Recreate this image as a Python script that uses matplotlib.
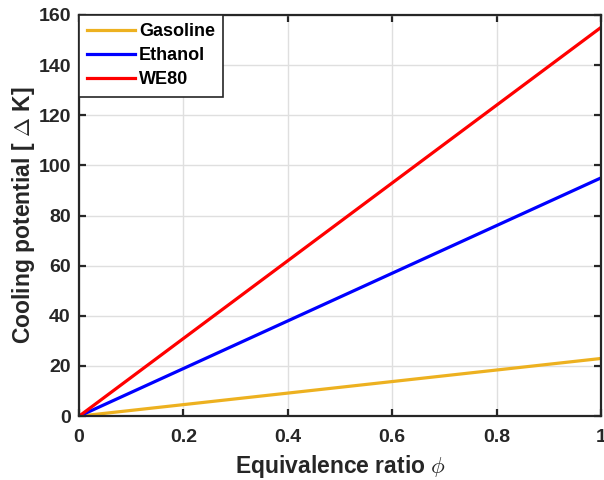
import matplotlib.pyplot as plt

plt.rcParams['font.family'] = ['Liberation Sans', 'DejaVu Sans']
plt.rcParams['font.weight'] = 'bold'
plt.rcParams['mathtext.fontset'] = 'cm'

phi = [0.0, 1.0]
gasoline = [0.0, 23.0]
ethanol = [0.0, 95.0]
we80 = [0.0, 155.0]

fig = plt.figure(figsize=(6.04, 4.8), dpi=100)
ax = fig.add_axes([0.131, 0.133, 0.864, 0.836])

ax.plot(phi, gasoline, color='#EDB120', lw=2.3, label='Gasoline')
ax.plot(phi, ethanol, color='#0000FF', lw=2.3, label='Ethanol')
ax.plot(phi, we80, color='#FF0000', lw=2.3, label='WE80')

ax.set_xlim(0, 1)
ax.set_ylim(0, 160)
ax.set_xticks([0, 0.2, 0.4, 0.6, 0.8, 1])
ax.set_xticklabels(['0', '0.2', '0.4', '0.6', '0.8', '1'])
ax.set_yticks(range(0, 161, 20))
ax.grid(True, color='#dfdfdf', lw=1.0)
ax.set_axisbelow(True)

for s in ax.spines.values():
    s.set_linewidth(1.6)
    s.set_color('#262626')
ax.tick_params(direction='in', length=5, width=1.6, colors='#262626',
               labelsize=14, top=True, right=True)
ax.tick_params(axis='x', pad=9)
ax.tick_params(axis='y', pad=6)
for t in ax.get_xticklabels() + ax.get_yticklabels():
    t.set_fontweight('bold')
    t.set_color('#262626')

ax.set_xlabel(r'Equivalence ratio $\phi$', fontsize=16.5, fontweight='bold',
              color='#262626', labelpad=5)
ax.set_ylabel(r'Cooling potential [ $\Delta$ K]', fontsize=16.5, fontweight='bold',
              color='#262626', labelpad=1)

leg = ax.legend(loc='upper left', fontsize=13, handlelength=2.65, handletextpad=0.22,
                borderaxespad=0, borderpad=0.45, labelspacing=0.4,
                fancybox=False, framealpha=1, edgecolor='#262626')
leg.get_frame().set_linewidth(1.2)
for t in leg.get_texts():
    t.set_fontweight('bold')

fig.savefig('out.png', dpi=100)
